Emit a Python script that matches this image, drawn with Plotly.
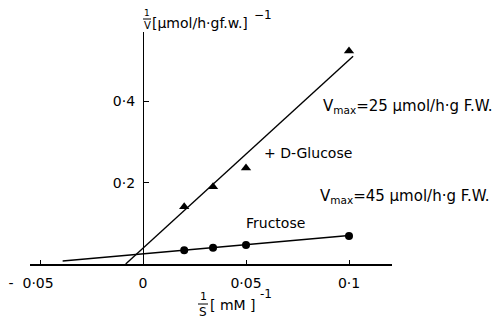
import plotly.graph_objects as go

# ---- data ----
glucose_x = [0.02, 0.034, 0.05, 0.1]
glucose_y = [0.141, 0.19, 0.236, 0.524]
fructose_x = [0.02, 0.034, 0.05, 0.1]
fructose_y = [0.034, 0.040, 0.047, 0.069]

# drawn regression lines (intercept = 1/Vmax, slope)
glucose_line_x = [-0.0084, 0.102]
glucose_intercept, glucose_slope = 0.039, 4.63
fructose_line_x = [-0.039, 0.1]
fructose_intercept, fructose_slope = 0.025, 0.45

x_tickvals = [-0.05, 0, 0.05, 0.1]
x_ticktext = ["-\u00a0\u00a00·05\u00a0\u00a0\u00a0\u00a0", "0", "0·05", "0·1"]
y_tickvals = [0.2, 0.4]
y_ticktext = ["0·2", "0·4"]

FONT = "DejaVu Sans"
fig = go.Figure()

def line_y(xs, a, b):
    return [a + b * x for x in xs]

fig.add_trace(go.Scatter(x=glucose_line_x, y=line_y(glucose_line_x, glucose_intercept, glucose_slope),
                         mode="lines", line=dict(color="black", width=1.4), showlegend=False, cliponaxis=False))
fig.add_trace(go.Scatter(x=fructose_line_x, y=line_y(fructose_line_x, fructose_intercept, fructose_slope),
                         mode="lines", line=dict(color="black", width=1.4), showlegend=False, cliponaxis=False))
fig.add_trace(go.Scatter(x=glucose_x, y=glucose_y, mode="markers",
                         marker=dict(symbol="triangle-up", size=9, color="black"), showlegend=False, cliponaxis=False))
fig.add_trace(go.Scatter(x=fructose_x, y=fructose_y, mode="markers",
                         marker=dict(symbol="circle", size=8, color="black"), showlegend=False, cliponaxis=False))

W, H = 495, 328
L, R, T, B = 30, 392, 32, 264   # plot area in pixels
x0px = 143

def px(x):
    return (x - L) / (R - L)

def py(y):
    return (B - y) / (B - T)

xr0 = (L - x0px) / 2060
xr1 = xr0 + (R - L) / 2060
yr1 = (B - T) / 406.5

fig.update_layout(
    width=W, height=H,
    margin=dict(l=L, r=W - R, t=T, b=H - B, autoexpand=False),
    plot_bgcolor="white", paper_bgcolor="white",
    font=dict(family=FONT, size=14, color="black"),
    xaxis=dict(range=[xr0, xr1], domain=[0, 1], showgrid=False, zeroline=False,
               showline=True, linecolor="black", linewidth=1.5,
               tickvals=x_tickvals, ticktext=x_ticktext, ticks="inside", ticklen=4,
               tickcolor="black", tickfont=dict(size=14), ticklabelstandoff=5),
    yaxis=dict(range=[0, yr1], anchor="free", position=px(x0px), showgrid=False, zeroline=False,
               showline=True, linecolor="black", linewidth=1.3,
               tickvals=y_tickvals, ticktext=y_ticktext, ticks="inside", ticklen=5,
               tickcolor="black", tickfont=dict(size=14), ticklabelstandoff=5),
)

ann = []
def t(text, x, y, size=14, xa="left", ya="middle"):
    ann.append(dict(text=text, x=px(x), y=py(y), xref="paper", yref="paper",
                    showarrow=False, xanchor=xa, yanchor=ya, font=dict(size=size)))

t("+ D-Glucose", 262, 153)
t("Fructose", 244, 223)
t("V<sub>max</sub>=25 µmol/h·g F.W.", 321, 106, size=15)
t("V<sub>max</sub>=45 µmol/h·g F.W.", 318, 196, size=15)
# y-axis title
t("1", 147, 13, size=9, xa="center")
t("V", 147, 25, size=10, xa="center")
t("[µmol/h·gf.w.]", 150, 23, size=14)
t("−1", 252, 15, size=12)
# x-axis title
t("1", 203, 296, size=11, xa="center")
t("S", 203, 312, size=12, xa="center")
t("[ mM ]", 208, 305, size=14)
t("-1", 258, 294, size=12)
fig.update_layout(annotations=ann)

fig.add_shape(type="line", xref="paper", yref="paper", x0=px(143), x1=px(151), y0=py(19), y1=py(19),
              line=dict(color="black", width=1))
fig.add_shape(type="line", xref="paper", yref="paper", x0=px(198), x1=px(208), y0=py(304), y1=py(304),
              line=dict(color="black", width=1))

fig.write_html("out.html", config={"displayModeBar": False},
               post_script="document.body.style.margin='0';document.body.style.padding='0';")
